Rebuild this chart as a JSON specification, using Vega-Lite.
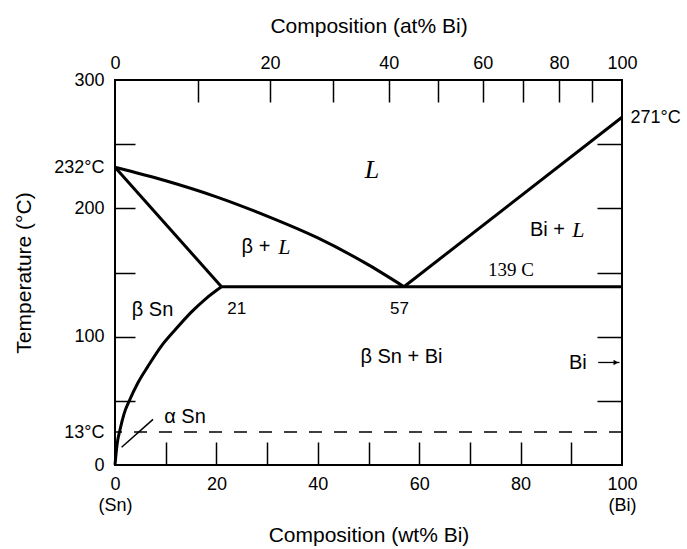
{
  "$schema": "https://vega.github.io/schema/vega-lite/v6.json",
  "width": 507,
  "height": 385,
  "autosize": "none",
  "padding": {"left": 115, "top": 80, "right": 65, "bottom": 84},
  "background": "white",
  "config": {
    "view": {"stroke": "black", "strokeWidth": 2},
    "axis": {"grid": false, "domain": false, "labelFont": "Liberation Sans", "labelFontSize": 18, "labelColor": "black", "titleFont": "Liberation Sans", "titleFontSize": 21, "titleFontWeight": "normal", "titleColor": "black", "tickColor": "black", "tickWidth": 1.5, "labelOverlap": false, "labelFlush": false}
  },
  "datasets": {
    "curves": [
      {"curve": "liquidus Sn", "i": 0, "wt": 0, "T": 232},
      {"curve": "liquidus Sn", "i": 1, "wt": 10, "T": 221.5},
      {"curve": "liquidus Sn", "i": 2, "wt": 20, "T": 209},
      {"curve": "liquidus Sn", "i": 3, "wt": 30, "T": 194},
      {"curve": "liquidus Sn", "i": 4, "wt": 40, "T": 177},
      {"curve": "liquidus Sn", "i": 5, "wt": 50, "T": 156},
      {"curve": "liquidus Sn", "i": 6, "wt": 57, "T": 139},
      {"curve": "solidus Sn", "i": 0, "wt": 0, "T": 232},
      {"curve": "solidus Sn", "i": 1, "wt": 21, "T": 139},
      {"curve": "eutectic", "i": 0, "wt": 21, "T": 139},
      {"curve": "eutectic", "i": 1, "wt": 100, "T": 139},
      {"curve": "liquidus Bi", "i": 0, "wt": 57, "T": 139},
      {"curve": "liquidus Bi", "i": 1, "wt": 100, "T": 271},
      {"curve": "solvus", "i": 0, "wt": 0, "T": 0},
      {"curve": "solvus", "i": 1, "wt": 0.4, "T": 8},
      {"curve": "solvus", "i": 2, "wt": 1, "T": 16},
      {"curve": "solvus", "i": 3, "wt": 1.8, "T": 35},
      {"curve": "solvus", "i": 4, "wt": 2.8, "T": 50},
      {"curve": "solvus", "i": 5, "wt": 4.5, "T": 64},
      {"curve": "solvus", "i": 6, "wt": 6.5, "T": 77},
      {"curve": "solvus", "i": 7, "wt": 9, "T": 92},
      {"curve": "solvus", "i": 8, "wt": 12, "T": 106},
      {"curve": "solvus", "i": 9, "wt": 15, "T": 119},
      {"curve": "solvus", "i": 10, "wt": 18, "T": 130},
      {"curve": "solvus", "i": 11, "wt": 21, "T": 139}
    ],
    "phaseLabels": [
      {"text": "β Sn", "wt": 7.4, "T": 121},
      {"text": "β Sn + Bi", "wt": 56.5, "T": 84.5},
      {"text": "Bi", "wt": 91.3, "T": 79.5},
      {"text": "α Sn", "wt": 13.8, "T": 31},
      {"text": "β +", "wt": 27.8, "T": 170},
      {"text": "Bi +", "wt": 85.3, "T": 183}
    ],
    "pointLabels": [
      {"text": "21", "wt": 24, "T": 122},
      {"text": "57", "wt": 56.1, "T": 122}
    ],
    "tempLabels": [
      {"text": "139 C", "wt": 78.1, "T": 152}
    ],
    "liquidSmall": [
      {"text": "L", "wt": 33.4, "T": 170},
      {"text": "L", "wt": 91.4, "T": 183}
    ],
    "liquidBig": [
      {"text": "L", "wt": 50.7, "T": 230}
    ]
  },
  "resolve": {"axis": {"x": "independent", "y": "independent"}},
  "layer": [
    {
      "data": {"name": "curves"},
      "mark": {"type": "line", "color": "black", "strokeWidth": 3, "interpolate": "monotone"},
      "encoding": {
        "x": {"field": "wt", "type": "quantitative", "scale": {"domain": [0, 100], "nice": false, "zero": false},
          "axis": {"orient": "bottom", "title": "Composition (wt% Bi)", "values": [0, 10, 20, 30, 40, 50, 60, 70, 80, 90, 100],
            "labelExpr": "datum.value == 0 ? ['0', '(Sn)'] : datum.value == 100 ? ['100', '(Bi)'] : datum.value % 20 == 0 ? datum.label : ''",
            "tickSize": -23, "labelPadding": 33, "labelLineHeight": 21,
            "tickOpacity": {"condition": {"test": "datum.value > 0 && datum.value < 100", "value": 1}, "value": 0},
            "titlePadding": 10}},
        "y": {"field": "T", "type": "quantitative", "scale": {"domain": [0, 13, 50, 300], "range": [385, 352, 321, 0], "nice": false, "zero": false},
          "axis": {"orient": "left", "title": "Temperature (°C)", "values": [0, 13, 50, 100, 150, 200, 232, 250, 300],
            "labelExpr": "datum.value == 13 ? '13°C' : datum.value == 232 ? '232°C' : datum.value % 100 == 0 ? datum.label : ''",
            "tickSize": -20, "labelPadding": 31,
            "tickOpacity": {"condition": {"test": "datum.value % 50 == 0 && datum.value > 0 && datum.value < 300", "value": 1}, "value": 0},
            "titlePadding": 19}},
        "detail": {"field": "curve"},
        "order": {"field": "i", "type": "quantitative"}
      }
    },
    {
      "data": {"name": "curves"},
      "mark": {"type": "point", "opacity": 0},
      "encoding": {
        "x": {"field": "wt", "type": "quantitative", "scale": {"domain": [0, 100], "nice": false, "zero": false},
          "axis": {"orient": "top", "title": "Composition (at% Bi)", "values": [0, 16.36, 30.56, 43.0, 54.0, 63.77, 72.53, 80.42, 87.57, 94.06, 100],
            "labelExpr": "abs(datum.value) < 0.01 ? '0' : abs(datum.value - 30.56) < 0.01 ? '20' : abs(datum.value - 54) < 0.01 ? '40' : abs(datum.value - 72.53) < 0.01 ? '60' : abs(datum.value - 87.57) < 0.01 ? '80' : abs(datum.value - 100) < 0.01 ? '100' : ''",
            "tickSize": -22, "labelPadding": 30,
            "tickOpacity": {"condition": {"test": "datum.value > 0 && datum.value < 100", "value": 1}, "value": 0},
            "titlePadding": 18}},
        "y": {"field": "T", "type": "quantitative", "scale": {"domain": [0, 13, 50, 300], "range": [385, 352, 321, 0], "nice": false, "zero": false}, "axis": null}
      }
    },
    {
      "data": {"name": "curves"},
      "mark": {"type": "point", "opacity": 0},
      "encoding": {
        "x": {"field": "wt", "type": "quantitative", "scale": {"domain": [0, 100], "nice": false, "zero": false}, "axis": null},
        "y": {"field": "T", "type": "quantitative", "scale": {"domain": [0, 13, 50, 300], "range": [385, 352, 321, 0], "nice": false, "zero": false},
          "axis": {"orient": "right", "title": null, "values": [50, 100, 150, 200, 250, 271],
            "labelExpr": "datum.value == 271 ? '271°C' : ''",
            "tickSize": -25, "labelPadding": 33,
            "tickOpacity": {"condition": {"test": "datum.value == 271", "value": 0}, "value": 1}}}
      }
    },
    {
      "data": {"values": [{}]},
      "mark": {"type": "rule", "color": "black", "strokeWidth": 1.5, "strokeDash": [13, 12]},
      "encoding": {
        "y": {"datum": 13, "type": "quantitative", "scale": {"domain": [0, 13, 50, 300], "range": [385, 352, 321, 0], "nice": false, "zero": false}, "axis": null}
      }
    },
    {
      "data": {"values": [{}]},
      "mark": {"type": "rule", "color": "black", "strokeWidth": 1.5},
      "encoding": {
        "x": {"datum": 1.3, "type": "quantitative", "scale": {"domain": [0, 100], "nice": false, "zero": false}, "axis": null},
        "x2": {"datum": 7.5},
        "y": {"datum": 7, "type": "quantitative", "scale": {"domain": [0, 13, 50, 300], "range": [385, 352, 321, 0], "nice": false, "zero": false}, "axis": null},
        "y2": {"datum": 28}
      }
    },
    {
      "data": {"values": [{}]},
      "mark": {"type": "rule", "color": "black", "strokeWidth": 1.3},
      "encoding": {
        "x": {"datum": 95.3, "type": "quantitative", "scale": {"domain": [0, 100], "nice": false, "zero": false}, "axis": null},
        "x2": {"datum": 99.5},
        "y": {"datum": 80, "type": "quantitative", "scale": {"domain": [0, 13, 50, 300], "range": [385, 352, 321, 0], "nice": false, "zero": false}, "axis": null}
      }
    },
    {
      "data": {"values": [{}]},
      "mark": {"type": "point", "shape": "triangle-right", "filled": true, "color": "black", "size": 30, "opacity": 1},
      "encoding": {
        "x": {"datum": 98.8, "type": "quantitative", "scale": {"domain": [0, 100], "nice": false, "zero": false}, "axis": null},
        "y": {"datum": 80, "type": "quantitative", "scale": {"domain": [0, 13, 50, 300], "range": [385, 352, 321, 0], "nice": false, "zero": false}, "axis": null}
      }
    },
    {
      "data": {"name": "phaseLabels"},
      "mark": {"type": "text", "font": "Liberation Sans", "fontSize": 20, "color": "black", "align": "center", "baseline": "middle"},
      "encoding": {
        "x": {"field": "wt", "type": "quantitative", "scale": {"domain": [0, 100], "nice": false, "zero": false}, "axis": null},
        "y": {"field": "T", "type": "quantitative", "scale": {"domain": [0, 13, 50, 300], "range": [385, 352, 321, 0], "nice": false, "zero": false}, "axis": null},
        "text": {"field": "text"}
      }
    },
    {
      "data": {"name": "pointLabels"},
      "mark": {"type": "text", "font": "Liberation Sans", "fontSize": 17, "color": "black", "align": "center", "baseline": "middle"},
      "encoding": {
        "x": {"field": "wt", "type": "quantitative", "scale": {"domain": [0, 100], "nice": false, "zero": false}, "axis": null},
        "y": {"field": "T", "type": "quantitative", "scale": {"domain": [0, 13, 50, 300], "range": [385, 352, 321, 0], "nice": false, "zero": false}, "axis": null},
        "text": {"field": "text"}
      }
    },
    {
      "data": {"name": "tempLabels"},
      "mark": {"type": "text", "font": "Liberation Serif", "fontSize": 19, "color": "black", "align": "center", "baseline": "middle"},
      "encoding": {
        "x": {"field": "wt", "type": "quantitative", "scale": {"domain": [0, 100], "nice": false, "zero": false}, "axis": null},
        "y": {"field": "T", "type": "quantitative", "scale": {"domain": [0, 13, 50, 300], "range": [385, 352, 321, 0], "nice": false, "zero": false}, "axis": null},
        "text": {"field": "text"}
      }
    },
    {
      "data": {"name": "liquidSmall"},
      "mark": {"type": "text", "font": "Liberation Serif", "fontStyle": "italic", "fontSize": 22, "color": "black", "align": "center", "baseline": "middle"},
      "encoding": {
        "x": {"field": "wt", "type": "quantitative", "scale": {"domain": [0, 100], "nice": false, "zero": false}, "axis": null},
        "y": {"field": "T", "type": "quantitative", "scale": {"domain": [0, 13, 50, 300], "range": [385, 352, 321, 0], "nice": false, "zero": false}, "axis": null},
        "text": {"field": "text"}
      }
    },
    {
      "data": {"name": "liquidBig"},
      "mark": {"type": "text", "font": "Liberation Serif", "fontStyle": "italic", "fontSize": 26, "color": "black", "align": "center", "baseline": "middle"},
      "encoding": {
        "x": {"field": "wt", "type": "quantitative", "scale": {"domain": [0, 100], "nice": false, "zero": false}, "axis": null},
        "y": {"field": "T", "type": "quantitative", "scale": {"domain": [0, 13, 50, 300], "range": [385, 352, 321, 0], "nice": false, "zero": false}, "axis": null},
        "text": {"field": "text"}
      }
    }
  ]
}
